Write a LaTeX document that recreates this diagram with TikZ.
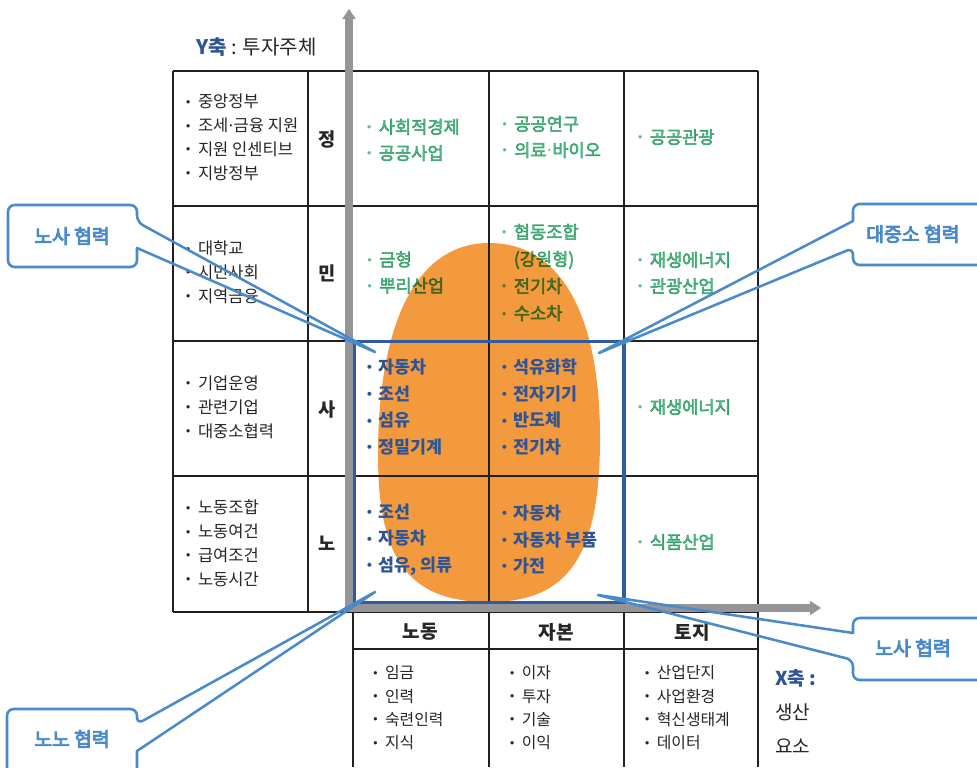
\documentclass[tikz,border=0pt]{standalone}
\usepackage{fontspec}
\setmainfont{Noto Sans CJK KR}
\newfontfamily\dv{DejaVu Sans}
\newfontfamily\medf[FakeBold=3]{Noto Sans CJK KR}
\newfontfamily\medc[FakeBold=4.5]{Noto Sans CJK KR}
\definecolor{grn}{HTML}{5BBD8F}
\definecolor{blu}{HTML}{2E5496}
\definecolor{txt}{HTML}{262626}
\definecolor{org}{HTML}{F39A3F}
\definecolor{boxblue}{HTML}{2F5C9E}
\definecolor{callb}{HTML}{4A8ACB}
\definecolor{axgray}{HTML}{939598}
\definecolor{gridc}{HTML}{231F20}
\newcommand\bul{\makebox[9.8pt][l]{\raisebox{1.3pt}{\dv\fontsize{8.5pt}{8.5pt}\selectfont •}}}
\newcommand\nob{\makebox[9.8pt][l]{}}
\newcommand\mdot{{\dv ·}}
\tikzset{
  gridline/.style={draw=gridc, line width=1pt},
  lefttxt/.style={anchor=west, align=left, inner sep=0pt, text=txt, font=\fontsize{12.4pt}{17.9pt}\selectfont},
  bottxt/.style={anchor=west, align=left, inner sep=0pt, text=txt, font=\fontsize{11.9pt}{17.5pt}\selectfont},
  lbl/.style={inner sep=0pt, text=txt, font=\bfseries\fontsize{14pt}{14pt}\selectfont},
  hdr/.style={inner sep=0pt, text=txt, font=\bfseries\fontsize{14.3pt}{14.3pt}\selectfont},
  grtxt/.style={anchor=west, align=left, inner sep=0pt, text=grn, font=\medf\fontsize{13.2pt}{19.6pt}\selectfont},
  bltxt/.style={anchor=west, align=left, inner sep=0pt, text=blu, font=\bfseries\fontsize{13pt}{20pt}\selectfont},
  ctext/.style={inner sep=0pt, text=callb, font=\medc\fontsize{14.5pt}{14.5pt}\selectfont},
  cline/.style={draw=callb, line width=1.9pt, line join=round},
}
\begin{document}
\begin{tikzpicture}[x=0.75pt,y=-0.75pt]
\clip (0,0) rectangle (977,767);
\fill[white] (0,0) rectangle (977,767);

% orange egg
\fill[org] (378,455) .. controls (378,320) and (418,243) .. (489,243)
  .. controls (560,243) and (600,313) .. (600,438)
  .. controls (600,555) and (569,602) .. (489,602)
  .. controls (409,602) and (378,560) .. (378,455) -- cycle;

% grid lines
\foreach \yy in {71,206,341,476,612} \draw[gridline] (173,\yy) -- (758,\yy);
\draw[gridline] (353,649) -- (758,649);
\draw[gridline] (173,71) -- (173,612);
\draw[gridline] (308,71) -- (308,612);
\draw[gridline] (353,612) -- (353,767);
\foreach \xx in {489,624,758} \draw[gridline] (\xx,71) -- (\xx,767);

% axes
\fill[axgray] (345.2,611.8) -- (345.2,19) -- (342.2,19) -- (349,9) -- (355.8,19) -- (352.8,19)
  -- (352.8,604.2) -- (810,604.2) -- (810,600.8) -- (821,608) -- (810,615.2) -- (810,611.8) -- cycle;

% blue box
\draw[boxblue, line width=2.3pt] (354.3,341.3) rectangle (624,602.3);

% axis labels
\node[anchor=west, inner sep=0pt, font=\fontsize{15pt}{15pt}\selectfont] (ylab) at (196,47)
  {\textcolor{blu}{\bfseries Y축} \textcolor{txt}{: 투자주체}};
\node[anchor=west, align=left, inner sep=0pt, text=txt, font=\fontsize{14.3pt}{25.5pt}\selectfont] (xlab) at (775,711)
  {\textcolor{blu}{\bfseries X축 :}\\생산\\요소};

% left table
\node[lefttxt] (l1) at (184.7,137.5) {\bul 중앙정부\\\bul 조세\mdot 금융 지원\\\bul 지원 인센티브\\\bul 지방정부};
\node[lefttxt] (l2) at (184.7,272.5) {\bul 대학교\\\bul 시민사회\\\bul 지역금융};
\node[lefttxt] (l3) at (184.7,407) {\bul 기업운영\\\bul 관련기업\\\bul 대중소협력};
\node[lefttxt] (l4) at (184.7,543.5) {\bul 노동조합\\\bul 노동여건\\\bul 급여조건\\\bul 노동시간};
\node[lbl] (k1) at (327,140) {정};
\node[lbl] (k2) at (327,273) {민};
\node[lbl] (k3) at (327,410) {사};
\node[lbl] (k4) at (327,543) {노};

% green text (multiplied over orange)
\begin{scope}[blend mode=multiply]
\node[grtxt] (g11) at (365.5,140) {\bul 사회적경제\\\bul 공공사업};
\node[grtxt] (g12) at (501,137) {\bul 공공연구\\\bul 의료\mdot 바이오};
\node[grtxt] (g13) at (636.5,137) {\bul 공공관광};
\node[grtxt] (g21) at (366,272.5) {\bul 금형\\\bul 뿌리산업};
\node[grtxt, font=\medf\fontsize{13.2pt}{20.3pt}\selectfont] (g22) at (500.5,272.5) {\bul 협동조합\\\nob (강원형)\\\bul 전기차\\\bul 수소차};
\node[grtxt] (g23) at (636.5,273) {\bul 재생에너지\\\bul 관광산업};
\node[grtxt] (g33) at (636.5,407) {\bul 재생에너지};
\node[grtxt] (g43) at (636.5,542) {\bul 식품산업};
\end{scope}

% blue bold text
\node[bltxt] (b31) at (365.5,407) {\bul 자동차\\\bul 조선\\\bul 섬유\\\bul 정밀기계};
\node[bltxt] (b32) at (500.5,407) {\bul 석유화학\\\bul 전자기기\\\bul 반도체\\\bul 전기차};
\node[bltxt] (b41) at (365.5,539.5) {\bul 조선\\\bul 자동차\\\bul 섬유, 의류};
\node[bltxt] (b42) at (500.5,539.5) {\bul 자동차\\\bul 자동차 부품\\\bul 가전};

% bottom table
\node[hdr] (h1) at (420,632) {노동};
\node[hdr] (h2) at (556,632) {자본};
\node[hdr] (h3) at (692,632) {토지};
\node[bottxt] (f1) at (371.8,708) {\bul 임금\\\bul 인력\\\bul 숙련인력\\\bul 지식};
\node[bottxt] (f2) at (508.5,708) {\bul 이자\\\bul 투자\\\bul 기술\\\bul 이익};
\node[bottxt] (f3) at (643.5,708) {\bul 산업단지\\\bul 사업환경\\\bul 혁신생태계\\\bul 데이터};

% callouts
\coordinate (t1) at (375,352);
\coordinate (t2) at (599,353);
\coordinate (t3) at (598,595);
\coordinate (t4) at (375,592);
\node[ctext] (c1) at (72,236) {노사 협력};
\node[ctext, anchor=west] (c2) at (866,234) {대중소 협력};
\node[ctext, anchor=west] (c3) at (875,648) {노사 협력};
\node[ctext] (c4) at (72,739) {노노 협력};
\draw[cline] (137,248) [rounded corners=5pt] -- (137,267) -- (8,267) -- (8,205) -- (137,205) -- (137,222) [sharp corners] -- (t1) -- cycle;
\draw[cline] (853,221) [rounded corners=5pt] -- (853,204) -- (1010,204) -- (1010,265) -- (853,265) -- (853,248) [sharp corners] -- (t2) -- cycle;
\draw[cline] (853,633) [rounded corners=5pt] -- (853,618) -- (1010,618) -- (1010,680) -- (853,680) -- (853,660) [sharp corners] -- (t3) -- cycle;
\draw[cline] (137,751) [rounded corners=5pt] -- (137,790) -- (7,790) -- (7,709) -- (137,709) -- (137,724) [sharp corners] -- (t4) -- cycle;
\end{tikzpicture}
\end{document}
